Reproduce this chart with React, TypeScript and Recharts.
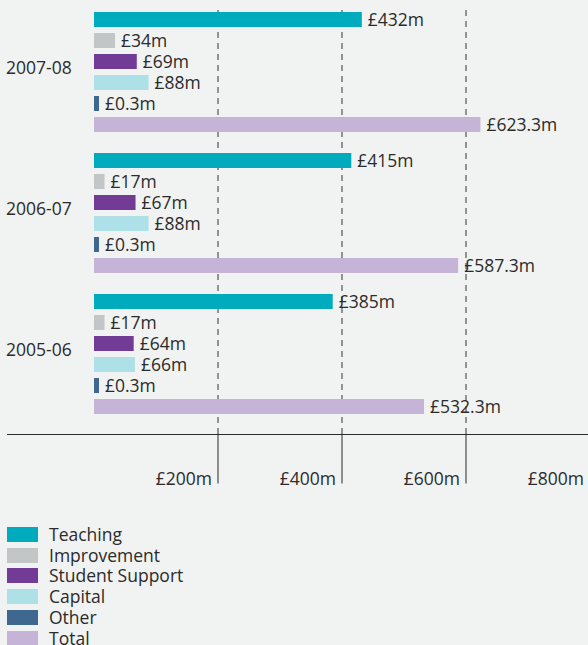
import React from 'react';
import { BarChart, Bar, XAxis, YAxis, CartesianGrid, Legend, LabelList } from 'recharts';

const INK = '#2b2b2b';
const BG = '#f1f2f2';
const FS = 17.5;

const years = ['2007-08', '2006-07', '2005-06'];
const teaching = [432, 415, 385];
const improvement = [34, 17, 17];
const studentSupport = [69, 67, 64];
const capital = [88, 88, 66];
const other = [0.3, 0.3, 0.3];
const total = [623.3, 587.3, 532.3];
const xTicks = [200, 400, 600, 800];

const series = [
  { key: 'teaching', name: 'Teaching', color: '#00abbd' },
  { key: 'improvement', name: 'Improvement', color: '#c3c6c7' },
  { key: 'studentSupport', name: 'Student Support', color: '#723b96' },
  { key: 'capital', name: 'Capital', color: '#aee0e7' },
  { key: 'other', name: 'Other', color: '#3e6890' },
  { key: 'total', name: 'Total', color: '#c6b4d8' },
];

const data = years.map((year, i) => ({
  year,
  teaching: teaching[i],
  improvement: improvement[i],
  studentSupport: studentSupport[i],
  capital: capital[i],
  other: other[i],
  total: total[i],
}));

const money = (v: any) => `£${v}m`;

const YearTick = (props: any) => (
  <text x={6} y={props.y} dy={2.5} fill={INK} fontSize={FS} textAnchor="start">
    {props.payload.value}
  </text>
);

const MoneyTick = (props: any) => (
  <text x={props.x - 6} y={props.y - 0.5} fill={INK} fontSize={FS} textAnchor="end">
    {money(props.payload.value)}
  </text>
);

const LegendList = (props: any) => (
  <div>
    {(props.payload || []).map((p: any) => (
      <div key={p.value} style={{ display: 'flex', alignItems: 'center', height: 20.8 }}>
        <span style={{ width: 31, height: 15, background: p.color, display: 'inline-block', marginRight: 11 }} />
        <span style={{ fontSize: FS, color: INK, lineHeight: '15px' }}>{p.value}</span>
      </div>
    ))}
  </div>
);

const order = (item: any) => series.findIndex((s) => s.name === item.value);

export default function App() {
  return (
    <div
      style={{
        position: 'absolute',
        left: 0,
        top: 0,
        width: 588,
        height: 645,
        overflow: 'hidden',
        background: BG,
        fontFamily: '"Open Sans", sans-serif',
      }}
    >
      <BarChart
        width={592}
        height={645}
        data={data}
        layout="vertical"
        barSize={15}
        barGap={6}
        margin={{ top: 0, right: 2, left: 0, bottom: 150.5 }}
      >
        <CartesianGrid
          horizontal={false}
          stroke="#333"
          strokeDasharray="6 5"
          y={10}
          height={424.5}
          syncWithTicks
        />
        <XAxis
          type="number"
          domain={[0, 800]}
          ticks={xTicks}
          interval={0}
          padding={{ left: 87, right: 0 }}
          height={60}
          tickSize={49}
          tick={<MoneyTick />}
          stroke={INK}
          axisLine={{ stroke: INK }}
          tickLine={{ stroke: INK }}
        />
        <YAxis
          type="category"
          dataKey="year"
          width={7}
          padding={{ top: 1, bottom: 10.5 }}
          axisLine={false}
          tickLine={false}
          tick={<YearTick />}
        />
        <Legend
          layout="horizontal"
          verticalAlign="middle"
          align="center"
          itemSorter={order}
          content={<LegendList />}
          wrapperStyle={{ left: 7, top: 524, width: 300, height: 130 }}
        />
        {series.map((s) => (
          <Bar
            key={s.key}
            dataKey={s.key}
            name={s.name}
            fill={s.color}
            minPointSize={s.key === 'other' ? 5 : 0}
            isAnimationActive={false}
          >
            <LabelList dataKey={s.key} position="right" offset={6} formatter={money} fill={INK} fontSize={FS} />
          </Bar>
        ))}
      </BarChart>
    </div>
  );
}
